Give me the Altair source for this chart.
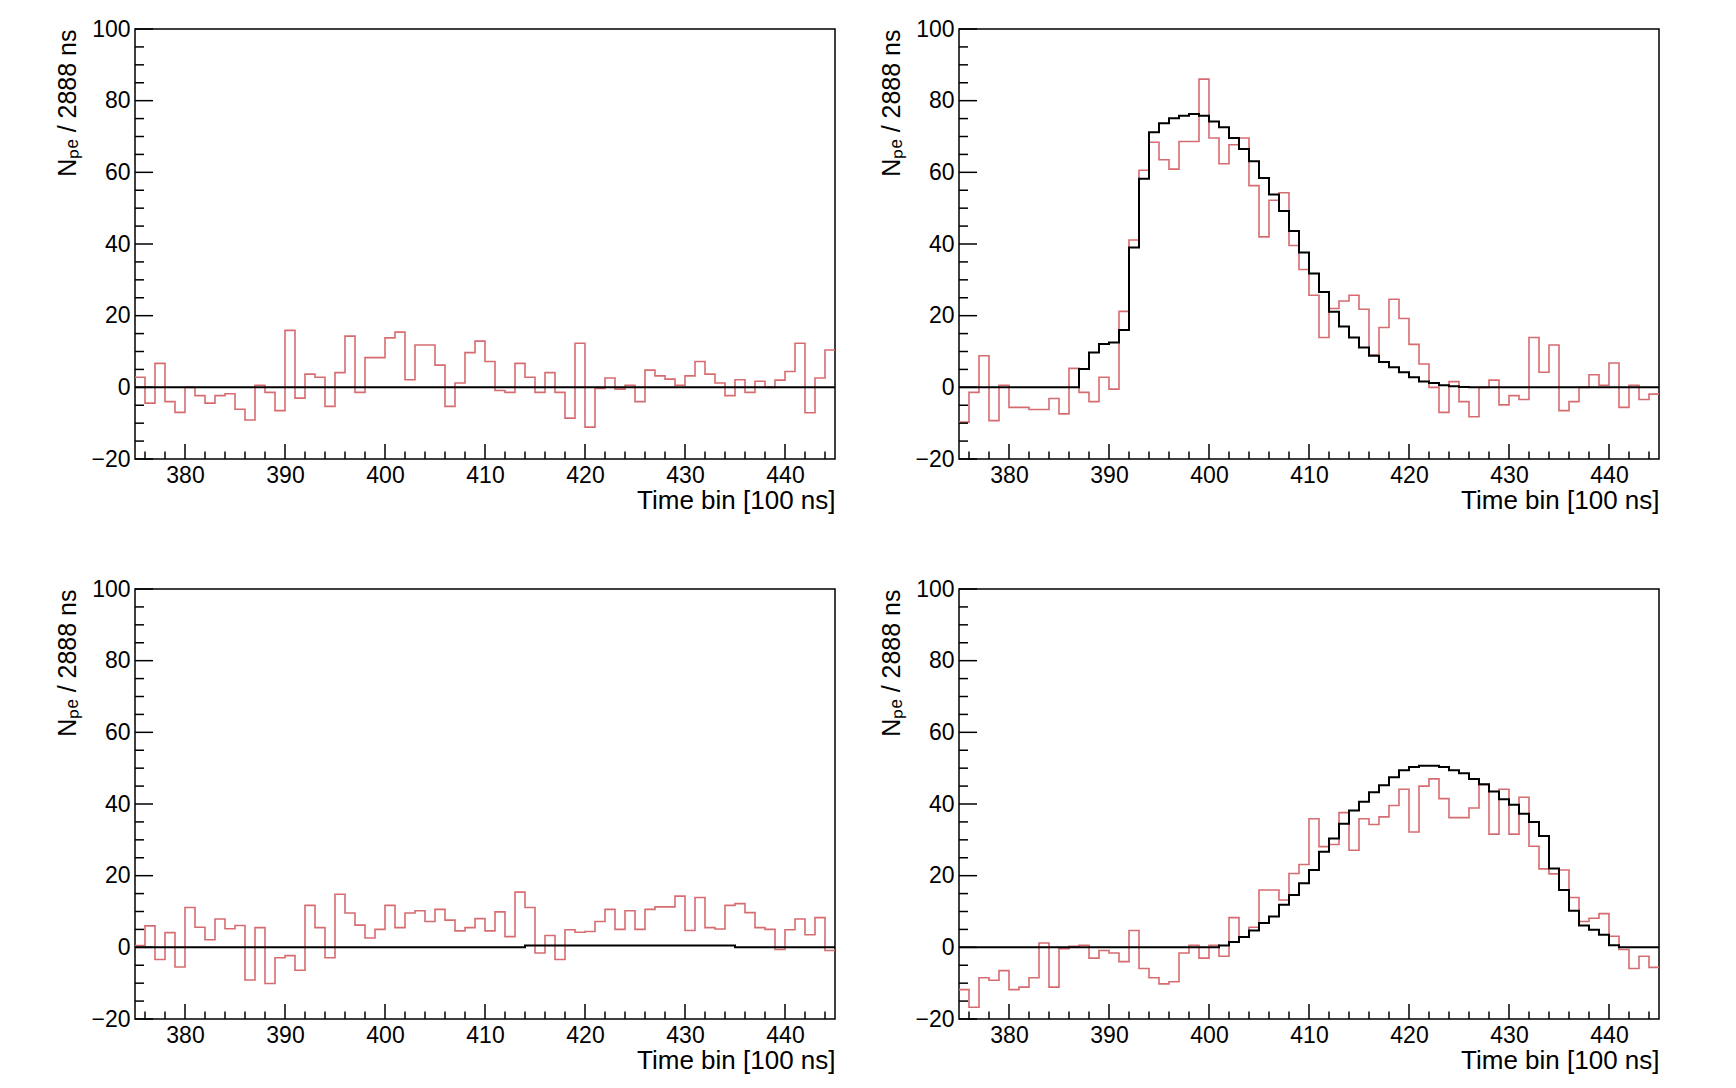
import altair as alt
import pandas as pd

# ---------------- data ----------------
BIN_LO = 375
BIN_HI = 445
bin_starts = list(range(BIN_LO, BIN_HI))

tl_red = [2.8, -4.4, 6.7, -4.0, -7.0, 0.0, -2.3, -4.4, -2.3, -1.8,
          -6.1, -9.1, 0.6, -1.4, -6.5, 15.9, -3.0, 3.7, 2.8, -5.3,
          4.1, 14.3, -1.4, 8.3, 8.3, 13.8, 15.4, 2.1, 11.8, 11.8,
          6.2, -5.3, 1.2, 9.7, 12.9, 7.2, -0.9, -1.4, 6.7, 2.8,
          -1.4, 4.1, -1.4, -8.6, 12.3, -11.1, -0.3, 2.6, -0.5, 0.6,
          -4.0, 4.8, 3.2, 2.3, 0.6, 3.2, 7.2, 3.7, 1.2, -2.3,
          2.1, -1.4, 1.7, 0.0, 2.0, 4.4, 12.3, -7.1, 2.6, 10.4]
tl_black = [0.0] * 70

tr_red = [-9.7, -1.4, 8.8, -9.3, 0.6, -5.6, -5.6, -6.2, -6.2, -3.1,
          -7.4, 5.3, -1.4, -4.0, 2.8, -0.5, 21.2, 41.1, 60.6, 68.4,
          63.5, 60.9, 68.6, 68.6, 86.0, 69.6, 62.4, 67.7, 69.6, 56.3,
          42.0, 52.2, 54.3, 39.6, 32.9, 25.7, 13.9, 22.0, 24.1, 25.7,
          21.8, 9.0, 16.7, 24.6, 19.2, 12.0, 6.5, 0.0, -7.0, 1.6,
          -4.0, -8.2, 0.0, 2.0, -4.9, -2.3, -3.4, 13.9, 4.2, 11.8,
          -6.5, -4.0, 0.0, 3.5, 0.6, 6.8, -5.6, 0.6, -3.4, -1.9]
tr_black = [0.0, 0.0, 0.0, 0.0, 0.0, 0.0, 0.0, 0.0, 0.0, 0.0,
            0.0, 0.0, 5.1, 9.7, 12.1, 12.5, 16.0, 39.0, 58.2, 71.2,
            73.7, 75.1, 75.8, 76.3, 75.8, 74.2, 72.6, 69.6, 66.5, 63.1,
            58.4, 53.8, 49.2, 43.6, 37.6, 31.8, 26.6, 21.1, 17.0, 13.9,
            11.1, 8.8, 7.1, 5.6, 4.2, 2.8, 1.6, 1.2, 0.6, 0.3,
            0.1, 0.0, 0.0, 0.0, 0.0, 0.0, 0.0, 0.0, 0.0, 0.0,
            0.0, 0.0, 0.0, 0.0, 0.0, 0.0, 0.0, 0.0, 0.0, 0.0]

bl_red = [0.5, 6.0, -3.4, 4.1, -5.5, 11.1, 5.6, 2.1, 7.9, 5.2,
          6.1, -9.1, 5.5, -10.1, -2.9, -2.3, -6.4, 11.7, 5.5, -2.9,
          14.8, 9.6, 6.2, 2.6, 5.0, 11.7, 5.5, 9.6, 10.2, 7.2,
          10.6, 7.6, 4.6, 5.5, 8.0, 4.6, 9.9, 3.0, 15.4, 11.1,
          -1.6, 3.3, -3.4, 4.9, 4.2, 4.4, 7.2, 10.6, 5.0, 10.2,
          5.0, 10.6, 11.3, 11.3, 14.3, 4.7, 13.9, 5.5, 5.1, 11.7,
          12.2, 9.7, 5.5, 5.0, -0.6, 4.9, 7.9, 3.5, 8.3, -0.9]
bl_black = [0.0, 0.0, 0.0, 0.0, 0.0, 0.0, 0.0, 0.0, 0.0, 0.0,
            0.0, 0.0, 0.0, 0.0, 0.0, 0.0, 0.0, 0.0, 0.0, 0.0,
            0.0, 0.0, 0.0, 0.0, 0.0, 0.0, 0.0, 0.0, 0.0, 0.0,
            0.0, 0.0, 0.0, 0.0, 0.0, 0.0, 0.0, 0.0, 0.0, 0.5,
            0.5, 0.5, 0.5, 0.5, 0.5, 0.5, 0.5, 0.5, 0.5, 0.5,
            0.5, 0.5, 0.5, 0.5, 0.5, 0.5, 0.5, 0.5, 0.5, 0.5,
            0.0, 0.0, 0.0, 0.0, 0.0, 0.0, 0.0, 0.0, 0.0, 0.0]

br_red = [-11.8, -16.7, -8.5, -9.2, -6.5, -11.8, -11.1, -8.5, 1.2, -11.1,
          -0.4, 0.3, 0.6, -3.0, -0.9, -1.6, -4.0, 4.7, -5.9, -8.5,
          -10.2, -9.6, -1.6, 0.6, -3.0, 0.6, -2.5, 8.3, 2.8, 5.6,
          16.0, 16.0, 13.2, 20.6, 23.1, 35.9, 28.1, 28.7, 37.6, 27.1,
          35.9, 34.3, 36.4, 39.6, 44.1, 32.2, 45.0, 47.0, 41.5, 36.2,
          36.2, 38.9, 45.4, 31.6, 44.1, 31.6, 41.9, 28.2, 21.9, 20.5,
          21.6, 13.9, 7.2, 8.1, 9.4, 3.1, -0.6, -5.9, -2.5, -5.6]
br_black = [0.0, 0.0, 0.0, 0.0, 0.0, 0.0, 0.0, 0.0, 0.0, 0.0,
            0.0, 0.0, 0.0, 0.0, 0.0, 0.0, 0.0, 0.0, 0.0, 0.0,
            0.0, 0.0, 0.0, 0.0, 0.0, 0.0, 0.5, 1.5, 2.9, 4.7,
            6.8, 8.6, 11.9, 14.6, 17.9, 21.6, 26.7, 30.4, 34.5, 38.2,
            40.6, 43.3, 45.2, 47.5, 49.4, 50.3, 50.7, 50.7, 50.3, 49.4,
            48.6, 47.0, 45.5, 43.5, 41.3, 39.8, 37.3, 35.0, 31.1, 22.0,
            16.0, 10.2, 6.1, 4.9, 3.5, 0.6, 0.0, 0.0, 0.0, 0.0]

x_major = [380, 390, 400, 410, 420, 430, 440]
x_minor = [376, 378, 382, 384, 386, 388, 392, 394, 396, 398, 402, 404, 406, 408,
           412, 414, 416, 418, 422, 424, 426, 428, 432, 434, 436, 438, 442, 444]
y_major = [-20, 0, 20, 40, 60, 80, 100]
y_minor = [-15, -10, -5, 5, 10, 15, 25, 30, 35, 45, 50, 55, 65, 70, 75,
           85, 90, 95]

Y_TITLE = "Nₚₑ / 2888 ns"
X_TITLE = "Time bin [100 ns]"

# ---------------- styling ----------------
W, H = 700, 430
RED = "#d66c70"
FONT = "Liberation Sans"


def hist_df(vals):
    return pd.DataFrame({"t": bin_starts + [BIN_HI], "v": list(vals) + [vals[-1]]})


x_scale = alt.Scale(domain=[BIN_LO, BIN_HI], nice=False, zero=False)
y_scale = alt.Scale(domain=[-20, 100], nice=False, zero=False)

xa = alt.Axis(values=x_major, ticks=False, domain=False, grid=False,
              labelFontSize=23, labelPadding=5, labelFlush=False,
              title=X_TITLE, titleFontSize=26, titleX=W, titleY=49,
              titleAlign="right", titleBaseline="alphabetic")
ya = alt.Axis(values=y_major, ticks=False, domain=False, grid=False,
              labelFontSize=23, labelPadding=5, labelFlush=False,
              title=Y_TITLE, titleFontSize=25, titleX=-60, titleY=0,
              titleAngle=270, titleAlign="right", titleBaseline="alphabetic")


def panel(red, black):
    red_l = alt.Chart(hist_df(red)).mark_line(
        interpolate="step-after", color=RED, strokeWidth=1.6, clip=True
    ).encode(x=alt.X("t:Q", scale=x_scale, axis=xa),
             y=alt.Y("v:Q", scale=y_scale, axis=ya))
    black_l = alt.Chart(hist_df(black)).mark_line(
        interpolate="step-after", color="black", strokeWidth=2, clip=True
    ).encode(x=alt.X("t:Q", scale=x_scale, axis=xa),
             y=alt.Y("v:Q", scale=y_scale, axis=ya))
    xt_maj = alt.Chart(pd.DataFrame({"t": x_major})).mark_rule(
        color="black", strokeWidth=1.5
    ).encode(x=alt.X("t:Q", scale=x_scale, axis=xa),
             y=alt.value(H), y2=alt.value(H - 15))
    xt_min = alt.Chart(pd.DataFrame({"t": x_minor})).mark_rule(
        color="black", strokeWidth=1.5
    ).encode(x=alt.X("t:Q", scale=x_scale, axis=xa),
             y=alt.value(H), y2=alt.value(H - 7.5))
    yt_maj = alt.Chart(pd.DataFrame({"v": y_major})).mark_rule(
        color="black", strokeWidth=1.5
    ).encode(y=alt.Y("v:Q", scale=y_scale, axis=ya),
             x=alt.value(0), x2=alt.value(18))
    yt_min = alt.Chart(pd.DataFrame({"v": y_minor})).mark_rule(
        color="black", strokeWidth=1.5
    ).encode(y=alt.Y("v:Q", scale=y_scale, axis=ya),
             x=alt.value(0), x2=alt.value(9))
    return alt.layer(red_l, black_l, xt_maj, xt_min, yt_maj, yt_min).properties(
        width=W, height=H)


chart = alt.concat(
    panel(tl_red, tl_black), panel(tr_red, tr_black),
    panel(bl_red, bl_black), panel(br_red, br_black),
    columns=2, spacing={"row": 130, "column": 124}, bounds="flush",
).properties(
    padding={"left": 46, "top": 9, "right": 5, "bottom": 0},
    background="white",
).configure_view(
    stroke="black", strokeWidth=1.5
).configure_axis(
    labelFont=FONT, titleFont=FONT, labelColor="black", titleColor="black",
    titleFontWeight="normal"
)

chart.save("out.html", embed_options={"renderer": "svg", "actions": False})
